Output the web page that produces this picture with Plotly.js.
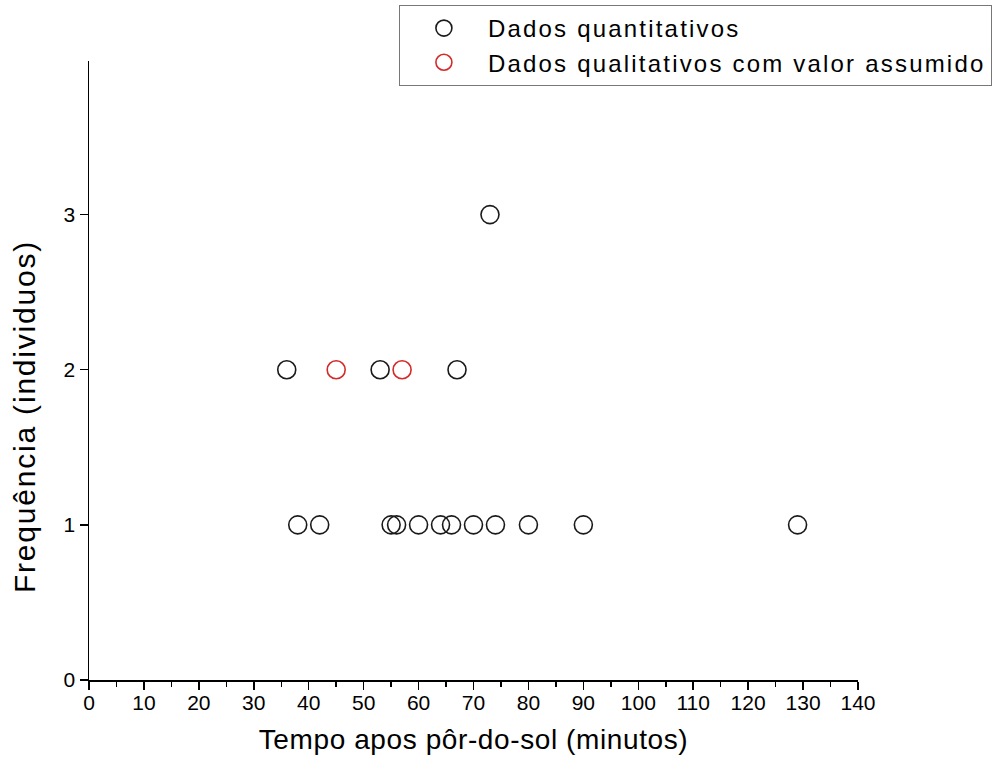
<!DOCTYPE html>
<html>
<head>
<meta charset="utf-8">
<script src="https://cdn.plot.ly/plotly-3.0.1.min.js"></script>
<style>
  html, body { margin: 0; padding: 0; background: #ffffff; }
  #chart { width: 1008px; height: 772px; }
  /* wide-set lettering for the titles and legend (also applies while Plotly measures text) */
  .legendtext { letter-spacing: 2.2px; }
  .xtitle { letter-spacing: 0.6px; }
  .annotation-text { letter-spacing: 1.8px; }
</style>
</head>
<body>
<div id="chart"></div>
<script>
// Observações de saída: minutos após o pôr-do-sol e número de indivíduos
const quantMinutes = [38, 42, 55, 56, 60, 64, 66, 70, 74, 80, 90, 129, 36, 53, 67, 73];
const quantCount   = [1, 1, 1, 1, 1, 1, 1, 1, 1, 1, 1, 1, 2, 2, 2, 3];

const qualMinutes = [45, 57];
const qualCount   = [2, 2];

const xTicks = [0, 10, 20, 30, 40, 50, 60, 70, 80, 90, 100, 110, 120, 130, 140];
const yTicks = [0, 1, 2, 3];

const xTitle = 'Tempo apos pôr-do-sol (minutos)';
const yTitle = 'Frequência (individuos)';

const font = 'Liberation Sans, Arial, sans-serif';

const traces = [
  {
    x: quantMinutes, y: quantCount,
    type: 'scatter', mode: 'markers',
    name: 'Dados quantitativos',
    marker: { symbol: 'circle-open', size: 18, color: '#1a1a1a', line: { width: 1.6, color: '#1a1a1a' } },
    cliponaxis: false
  },
  {
    x: qualMinutes, y: qualCount,
    type: 'scatter', mode: 'markers',
    name: 'Dados qualitativos com valor assumido',
    marker: { symbol: 'circle-open', size: 18, color: '#d42a2a', line: { width: 1.6, color: '#d42a2a' } },
    cliponaxis: false
  }
];

const layout = {
  width: 1008, height: 772,
  paper_bgcolor: '#ffffff', plot_bgcolor: '#ffffff',
  margin: { l: 89, r: 150, t: 61, b: 92, autoexpand: false },
  font: { family: font, color: '#000000', size: 21 },
  showlegend: true,
  legend: {
    x: 0.403, y: 1.0905, xanchor: 'left', yanchor: 'top',
    bordercolor: '#777777', borderwidth: 1,
    bgcolor: '#ffffff',
    font: { family: font, size: 24, color: '#000000' },
    itemwidth: 78
  },
  xaxis: {
    range: [0, 140],
    tickvals: xTicks, ticktext: xTicks.map(String),
    ticks: 'outside', ticklen: 8, tickwidth: 1.5, tickcolor: '#000',
    ticklabelstandoff: -5,
    minor: { dtick: 5, ticks: 'outside', ticklen: 5, tickwidth: 1.5, tickcolor: '#000' },
    showline: true, linecolor: '#000', linewidth: 1.5,
    showgrid: false, zeroline: false,
    tickfont: { family: font, size: 21 },
    title: { text: xTitle, font: { family: font, size: 28 }, standoff: 16 }
  },
  yaxis: {
    range: [0, 3.99],
    tickvals: yTicks, ticktext: yTicks.map(String),
    ticks: 'outside', ticklen: 8, tickwidth: 1.5, tickcolor: '#000',
    showline: true, linecolor: '#000', linewidth: 1.5,
    showgrid: false, zeroline: false,
    tickfont: { family: font, size: 21 }
  },
  annotations: [
    {
      text: yTitle, textangle: -90,
      xref: 'paper', yref: 'paper',
      x: -0.083, y: 0.425, xanchor: 'center', yanchor: 'middle',
      showarrow: false,
      font: { family: font, size: 30, color: '#000000' }
    }
  ]
};

Plotly.newPlot('chart', traces, layout, { displayModeBar: false, staticPlot: true });
</script>
</body>
</html>
